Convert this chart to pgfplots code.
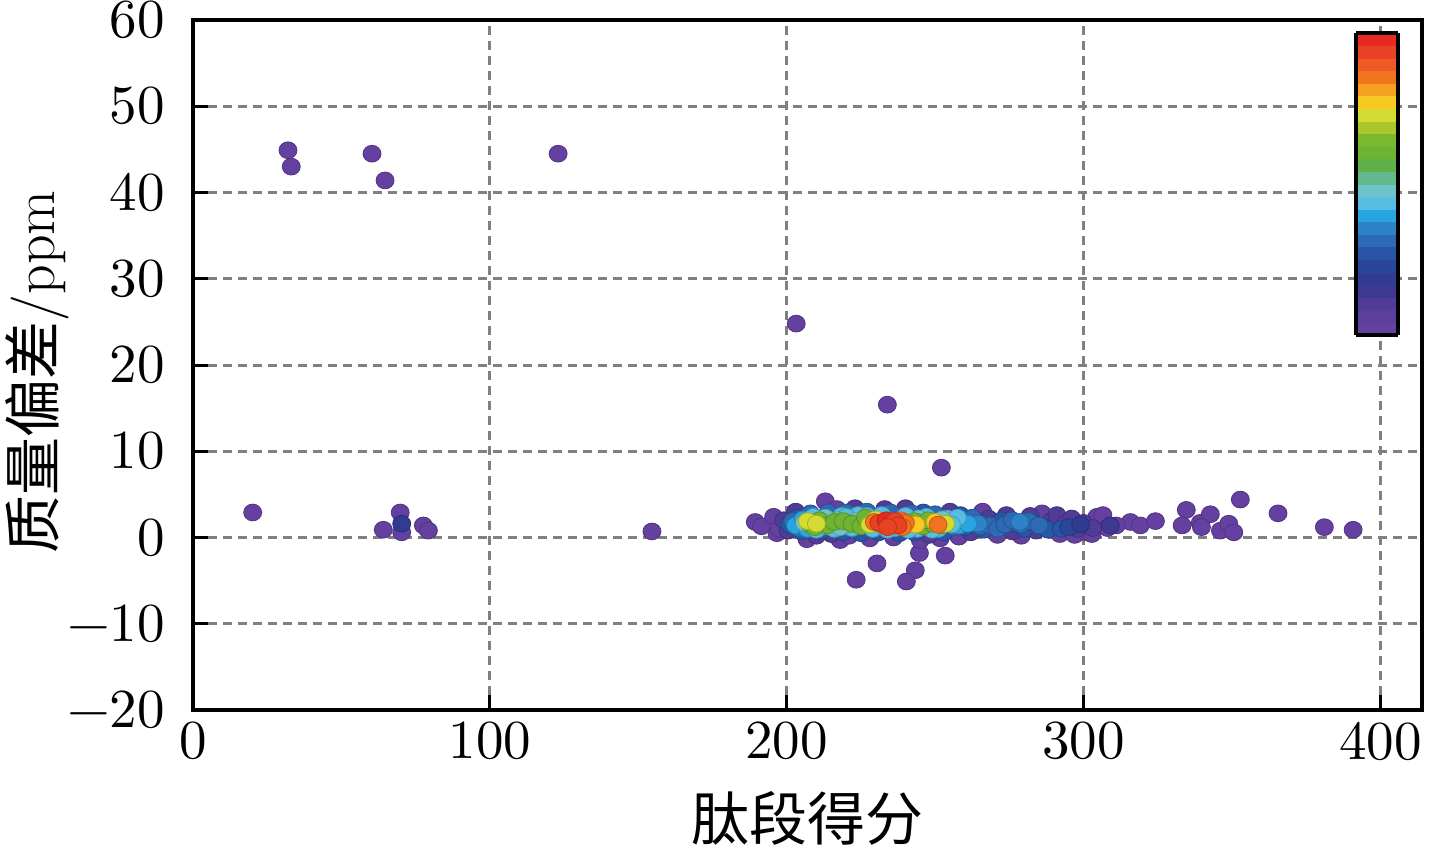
\documentclass[border=0pt]{standalone}
\usepackage{fontspec}
\usepackage{unicode-math}
\usepackage{pgfplots}
\pgfplotsset{compat=1.18}
\newfontfamily\cjk{Noto Sans CJK SC}
\pgfplotsset{colormap={dens}{
rgb255=(100,65,160) rgb255=(92,62,155) rgb255=(80,60,150) rgb255=(62,58,148)
rgb255=(48,60,148) rgb255=(42,70,155) rgb255=(40,85,165) rgb255=(45,105,180)
rgb255=(45,130,200) rgb255=(40,165,225) rgb255=(85,190,225) rgb255=(110,195,200)
rgb255=(100,185,140) rgb255=(95,175,75) rgb255=(110,180,50) rgb255=(120,185,45)
rgb255=(170,200,45) rgb255=(210,220,50) rgb255=(248,200,35) rgb255=(245,160,30)
rgb255=(240,115,30) rgb255=(238,90,35) rgb255=(232,65,35) rgb255=(232,40,35)}}
\pgfplotstableread{
x y m
20.1 2.9 0.01
32.0 44.9 0.01
33.1 43.0 0.01
60.3 44.5 0.01
64.7 41.4 0.01
123.0 44.5 0.01
203.2 24.8 0.01
233.9 15.4 0.01
252.1 8.1 0.01
64.1 0.9 0.01
69.8 2.9 0.01
70.3 0.6 0.01
77.6 1.4 0.01
79.3 0.8 0.01
154.6 0.7 0.01
213.0 4.2 0.01
223.4 -4.9 0.01
230.4 -3.0 0.01
244.7 -1.8 0.01
243.3 -3.8 0.01
240.3 -5.1 0.01
253.4 -2.1 0.01
315.8 1.8 0.01
319.1 1.4 0.01
324.2 1.9 0.01
334.6 3.2 0.01
333.2 1.4 0.01
339.3 1.7 0.01
342.7 2.7 0.01
339.7 1.2 0.01
346.1 0.8 0.01
348.9 1.6 0.01
350.6 0.6 0.01
352.8 4.4 0.01
365.5 2.8 0.01
381.1 1.2 0.01
390.8 0.9 0.01
189.4 1.8 0.01
191.5 1.3 0.01
195.6 2.4 0.01
196.7 0.5 0.01
197.5 1.0 0.01
206.8 -0.2 0.01
216.9 3.3 0.01
218.0 -0.3 0.01
221.0 0.2 0.01
228.0 -0.1 0.01
236.0 0.0 0.01
245.0 -0.3 0.01
251.7 -0.1 0.01
258.0 0.1 0.01
266.0 3.0 0.01
271.0 0.3 0.01
279.0 0.2 0.01
286.0 2.8 0.01
292.0 0.4 0.01
297.0 0.3 0.01
301.0 0.6 0.01
302.8 0.4 0.01
304.5 2.4 0.01
306.5 2.6 0.01
308.0 1.1 0.01
311.0 1.4 0.01
70.3 1.6 0.2
199.0 2.0 0.1
200.5 0.8 0.1
203.0 3.0 0.1
210.0 0.2 0.1
215.0 0.4 0.1
223.0 3.4 0.1
233.0 3.3 0.1
240.0 3.4 0.1
248.0 0.3 0.1
255.0 3.0 0.1
262.0 0.6 0.1
268.0 2.2 0.1
274.0 2.6 0.1
276.0 0.7 0.1
282.0 2.5 0.1
284.0 0.8 0.1
289.0 1.9 0.1
291.0 2.6 0.1
294.0 1.6 0.1
296.0 2.2 0.1
298.0 1.0 0.1
300.0 1.7 0.1
303.0 1.1 0.1
309.0 1.4 0.15
201.0 1.5 0.25
203.5 2.3 0.25
205.0 0.7 0.25
212.0 0.8 0.25
219.0 0.6 0.25
225.0 0.5 0.25
231.0 0.6 0.25
238.0 0.5 0.25
243.0 0.6 0.25
246.0 2.9 0.25
253.0 0.6 0.25
258.5 2.6 0.25
260.0 1.2 0.25
264.0 1.8 0.25
266.5 0.9 0.25
270.0 1.5 0.25
272.5 2.0 0.25
277.0 1.6 0.25
280.0 1.0 0.25
283.0 1.7 0.25
286.5 1.2 0.25
288.0 0.9 0.25
292.5 1.0 0.25
295.0 1.2 0.22
299.0 1.5 0.2
202.0 1.9 0.33
204.5 1.0 0.33
208.0 2.8 0.33
214.0 2.9 0.33
220.0 2.9 0.33
227.0 3.0 0.33
235.0 2.9 0.33
242.0 2.8 0.33
250.0 2.7 0.33
256.0 1.2 0.33
259.0 1.9 0.33
262.5 2.3 0.33
265.0 1.3 0.3
268.5 1.4 0.3
271.0 1.0 0.3
273.5 1.5 0.3
276.0 2.0 0.3
279.0 1.5 0.3
281.5 1.9 0.3
285.0 1.4 0.3
264.5 1.6 0.36
278.5 1.8 0.36
203.0 1.4 0.39
205.5 2.1 0.39
207.0 1.0 0.39
209.0 2.4 0.42
212.5 1.3 0.42
216.0 1.0 0.42
218.5 2.5 0.42
222.0 1.1 0.42
224.0 2.6 0.42
229.0 1.0 0.42
232.0 2.6 0.42
236.5 1.1 0.42
240.0 2.5 0.42
244.0 1.0 0.42
247.0 2.4 0.42
251.0 1.0 0.42
254.0 2.2 0.42
256.5 1.8 0.42
258.0 1.4 0.39
261.0 1.6 0.39
210.0 0.9 0.42
220.0 2.4 0.42
227.0 2.5 0.42
234.0 0.9 0.42
241.0 0.9 0.42
249.0 0.9 0.42
257.5 2.3 0.42
206.0 1.7 0.48
210.5 1.8 0.48
214.5 1.6 0.48
217.0 2.0 0.48
220.5 1.5 0.48
223.0 1.9 0.48
226.0 1.6 0.48
245.5 1.6 0.48
248.5 1.9 0.48
252.5 2.1 0.48
255.5 1.5 0.45
213.0 2.3 0.48
218.0 1.2 0.48
244.5 2.2 0.48
208.0 1.5 0.6
211.0 2.0 0.6
213.5 1.4 0.6
216.0 1.8 0.6
219.0 1.9 0.6
222.0 1.6 0.6
225.0 1.3 0.6
227.5 2.0 0.6
243.0 1.9 0.6
246.0 1.3 0.6
249.0 1.6 0.6
252.0 1.4 0.6
209.5 1.2 0.6
226.5 2.3 0.6
247.5 2.0 0.6
207.0 1.9 0.72
210.0 1.6 0.72
228.0 1.5 0.72
230.0 2.1 0.72
241.0 1.5 0.77
243.5 1.5 0.77
250.0 1.8 0.77
253.5 1.6 0.72
229.5 1.8 0.85
232.5 1.4 0.85
238.5 2.0 0.85
240.0 1.7 0.85
251.0 1.5 0.85
239.0 1.2 0.85
231.0 1.7 0.95
233.5 2.0 0.98
235.0 1.5 0.98
236.5 1.9 0.95
237.5 1.4 0.95
234.0 1.2 0.95
}\dens
\begin{document}
\begin{tikzpicture}
\begin{axis}[
  at={(0,0)}, anchor=south west,
  scale only axis, width=614.5pt, height=345pt,
  xmin=0, xmax=414, ymin=-20, ymax=60,
  xtick={0,100,...,400}, ytick={-20,-10,...,60},
  tick pos=left, tick align=inside,
  major tick length=7.5pt,
  every tick/.style={black, line width=1.5pt},
  axis line style={black, line width=1.6pt},
  grid=major,
  major grid style={gray, line width=1.5pt, dash pattern=on 4.5pt off 3pt},
  tick label style={font=\fontsize{27.5}{33}\selectfont},
  yticklabel style={xshift=-10.5pt},
  xticklabel style={yshift=-2.5pt},
  label style={font=\fontsize{29}{35}\selectfont},
  xlabel={\cjk 肽段得分},
  ylabel={{\cjk 质量偏差}/ppm},
  xlabel style={at={(axis description cs:0.5,-0.157)}, anchor=center},
  ylabel style={at={(axis description cs:-0.127,0.49)}, anchor=center},
  colormap name=dens,
  colormap access=piecewise constant,
  point meta min=0, point meta max=1,
  colorbar,
  colorbar shift/.style={xshift=-12pt, yshift=-6.5pt},
  colorbar style={
    at={(parent axis.north east)}, anchor=north east,
    scale only axis, width=21pt, height=151pt,
    ytick=\empty, xtick=\empty,
    axis line style={black, line width=1.6pt},
  },
]
\addplot[scatter, only marks, mark=*, mark size=4.2pt,
  mark options={xscale=1.07}, point meta=explicit]
  table[x=x, y=y, meta=m] {\dens};
\end{axis}
\pgfresetboundingbox
\path[use as bounding box] (-96.5pt,-68pt) rectangle (623.5pt,355pt);
\end{tikzpicture}
\end{document}
